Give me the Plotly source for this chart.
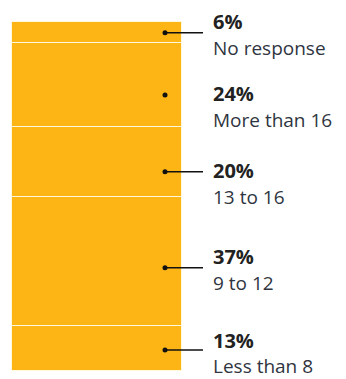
import plotly.graph_objects as go

# Data (bottom to top)
categories = ["Less than 8", "9 to 12", "13 to 16", "More than 16", "No response"]
values = [13, 37, 20, 24, 6]
pct_labels = ["13%", "37%", "20%", "24%", "6%"]
has_connector = [True, True, True, False, True]

# Layout helpers (positions in axis units; not data)
W, H = 346, 379
BAR_CENTER, BAR_WIDTH = 97, 170
DOT_X, LINE_END_X, TEXT_X = 165, 203, 211
Y_MIN, Y_MAX = -2.29, 106.3
dot_y = [6.0, 29.6, 57.1, 79.1, 96.9]          # label anchor heights
pct_shift = [10, 11, 1, 1, 11]                  # px upward shift of % text
desc_gap = 26                                   # px between % and description

BAR_COLOR = "#FCB515"

fig = go.Figure()
for cat, v in zip(categories, values):
    fig.add_trace(go.Bar(
        x=[BAR_CENTER], y=[v], width=[BAR_WIDTH], name=cat,
        marker=dict(color=BAR_COLOR, line=dict(color="#FFF8DC", width=1)),
        hoverinfo="skip", showlegend=False,
    ))

# connector lines
lx, ly = [], []
for y, c in zip(dot_y, has_connector):
    if c:
        lx += [DOT_X, LINE_END_X, None]
        ly += [y, y, None]
fig.add_trace(go.Scatter(x=lx, y=ly, mode="lines",
                         line=dict(color="#111111", width=1.5),
                         hoverinfo="skip", showlegend=False))
fig.add_trace(go.Scatter(x=[DOT_X] * len(dot_y), y=dot_y, mode="markers",
                         marker=dict(color="#111111", size=5),
                         hoverinfo="skip", showlegend=False))

for y, p, cat, s in zip(dot_y, pct_labels, categories, pct_shift):
    fig.add_annotation(x=TEXT_X, y=y, xref="x", yref="y", text="<b>" + p + "</b>",
                       showarrow=False, xanchor="left", yanchor="middle", yshift=s,
                       font=dict(family="Open Sans", size=20, color="#222222"))
    fig.add_annotation(x=TEXT_X, y=y, xref="x", yref="y", text=cat,
                       showarrow=False, xanchor="left", yanchor="middle",
                       yshift=s - desc_gap,
                       font=dict(family="Open Sans", size=19, color="#2f3540"))

fig.update_layout(
    barmode="stack", width=W, height=H,
    margin=dict(l=0, r=0, t=0, b=0),
    paper_bgcolor="white", plot_bgcolor="white",
    xaxis=dict(range=[0, W], visible=False, fixedrange=True),
    yaxis=dict(range=[Y_MIN, Y_MAX], visible=False, fixedrange=True),
    bargap=0,
)
fig.write_html("out.html")
